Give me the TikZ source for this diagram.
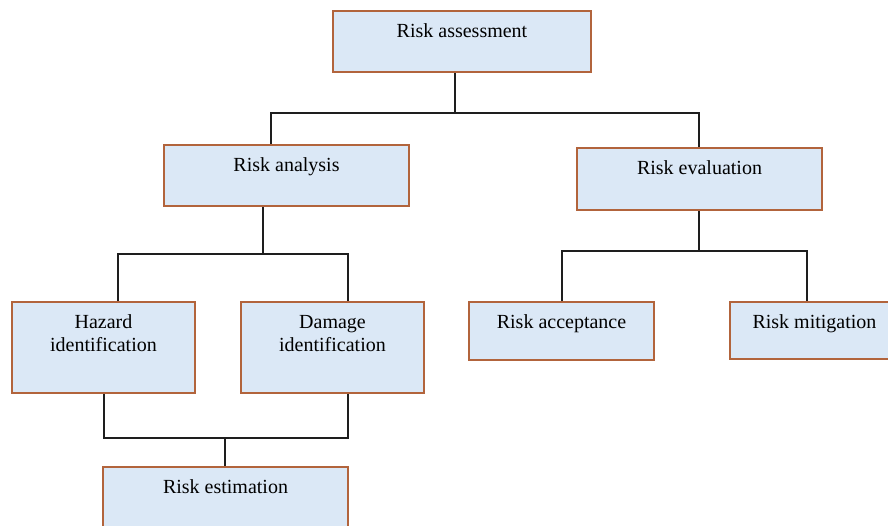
\documentclass[tikz,border=0pt]{standalone}
\usepackage{fontspec}
\setmainfont{Liberation Serif}
\definecolor{boxfill}{RGB}{219,232,246}
\definecolor{boxline}{RGB}{178,100,60}
\definecolor{linkcol}{RGB}{30,30,30}
\tikzset{
box/.style={draw=boxline, line width=2pt, fill=boxfill, align=center,
  inner xsep=0pt, inner ysep=0pt, text height=26pt, anchor=north,
  font=\fontsize{20}{23}\selectfont},
link/.style={draw=linkcol, line width=1.5pt}
}
\begin{document}
\begin{tikzpicture}[x=1pt,y=-1pt]
\useasboundingbox (0,0) rectangle (888,525);
\clip (0,0) rectangle (888,525);
\node[box, minimum width=258pt, text depth=35pt] (assess) at (462,10) {Risk assessment};
\node[box, minimum width=245pt, text depth=35pt] (analysis) at (286.5,144) {Risk analysis};
\node[box, minimum width=245pt, text depth=36pt] (evaluation) at (699.5,147) {Risk evaluation};
\node[box, minimum width=183pt, text height=49pt, text depth=42pt] (hazard) at (103.5,301) {Hazard\\identification};
\node[box, minimum width=183pt, text height=49pt, text depth=42pt] (damage) at (332.5,301) {Damage\\identification};
\node[box, minimum width=185pt, text depth=32pt] (accept) at (561.5,301) {Risk acceptance};
\node[box, minimum width=169pt, text depth=31pt] (mitig) at (814.5,301) {Risk mitigation};
\node[box, minimum width=245pt, text depth=36pt] (estim) at (225.5,466) {Risk estimation};
% junctions
\coordinate (jA) at (455,113);
\coordinate (jAL) at (271,113);
\coordinate (jAR) at (699,113);
\coordinate (jB) at (263,254);
\coordinate (jBL) at (118,254);
\coordinate (jBR) at (348,254);
\coordinate (jC) at (699,251);
\coordinate (jCL) at (562,251);
\coordinate (jCR) at (807,251);
\coordinate (jD) at (225,438);
\coordinate (jDL) at (104,438);
\coordinate (jDR) at (348,438);
\draw[link] (assess.south -| jA) -- (jA);
\draw[link] (analysis.north -| jAL) -- (jAL) -- (jAR) -- (evaluation.north -| jAR);
\draw[link] (analysis.south -| jB) -- (jB);
\draw[link] (hazard.north -| jBL) -- (jBL) -- (jBR) -- (damage.north -| jBR);
\draw[link] (evaluation.south -| jC) -- (jC);
\draw[link] (accept.north -| jCL) -- (jCL) -- (jCR) -- (mitig.north -| jCR);
\draw[link] (hazard.south -| jDL) -- (jDL) -- (jDR) -- (damage.south -| jDR);
\draw[link] (jD) -- (estim.north -| jD);
\end{tikzpicture}
\end{document}
